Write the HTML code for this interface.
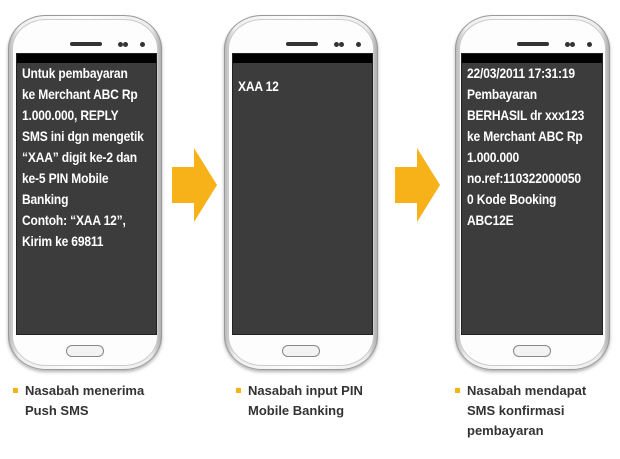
<!DOCTYPE html>
<html><head><meta charset="utf-8"><style>
body{margin:0;width:620px;height:459px;background:#fff;position:relative;overflow:hidden;font-family:"Liberation Sans",sans-serif}
.ph{position:absolute;top:15px;height:355px;border-radius:38px/34px;background:linear-gradient(90deg,#b5b5b5,#f0f0f0 7%,#fff 50%,#ececec 93%,#a8a8a8);box-shadow:0 0 0 1px #999 inset,0 2px 3px rgba(0,0,0,.3)}
.in{position:absolute;left:4px;right:4px;top:4px;bottom:4px;border-radius:34px/30px;border:1px solid #ccc;background:#fdfdfd}
.spk{position:absolute;top:27px;height:4px;width:32px;background:#333;border-radius:2px}
.dot{position:absolute;top:27px;width:5px;height:5px;border-radius:50%;background:#333}
.home{position:absolute;bottom:13px;width:36px;height:10px;border:1px solid #888;border-radius:6px;background:#f3f3f3}
.scr{position:absolute;top:53px;height:280px;background:#3c3c3c;border:1px solid #222;overflow:hidden}
.sb{position:absolute;left:0;right:0;top:0;height:9px;background:#000}
.txt{position:absolute;left:5px;top:9px;color:#fff;font-weight:bold;font-size:14px;letter-spacing:-0.2px;line-height:21px;white-space:nowrap;transform:scaleX(0.86);transform-origin:0 0}
.lab{position:absolute;font-size:13px;line-height:20px;color:#333;font-weight:bold}
.lab:before{content:"";position:absolute;left:-12px;top:7px;width:5px;height:5px;background:#f5b21b}
</style></head><body>
<div class="ph" style="left:8px;width:154px"><div class="in"></div><div class="spk" style="left:62px"></div><div class="dot" style="left:110px"></div><div class="dot" style="left:115px"></div><div class="dot" style="left:132px"></div><div class="home" style="left:58px"></div></div>
<div class="scr" style="left:16px;width:139px"><div class="sb"></div><div class="txt">Untuk pembayaran<br>ke Merchant ABC Rp<br>1.000.000, REPLY<br>SMS ini dgn mengetik<br>“XAA” digit ke-2 dan<br>ke-5 PIN Mobile<br>Banking<br>Contoh: “XAA 12”,<br>Kirim ke 69811</div></div>

<div class="ph" style="left:224px;width:154px"><div class="in"></div><div class="spk" style="left:62px"></div><div class="dot" style="left:110px"></div><div class="dot" style="left:115px"></div><div class="dot" style="left:132px"></div><div class="home" style="left:58px"></div></div>
<div class="scr" style="left:232px;width:139px"><div class="sb"></div><div class="txt" style="top:22px">XAA 12</div></div>

<div class="ph" style="left:455px;width:155px"><div class="in"></div><div class="spk" style="left:62px"></div><div class="dot" style="left:110px"></div><div class="dot" style="left:115px"></div><div class="dot" style="left:132px"></div><div class="home" style="left:58px"></div></div>
<div class="scr" style="left:461px;width:140px"><div class="sb"></div><div class="txt">22/03/2011 17:31:19<br>Pembayaran<br>BERHASIL dr xxx123<br>ke Merchant ABC Rp<br>1.000.000<br>no.ref:110322000050<br>0 Kode Booking<br>ABC12E</div></div>

<svg style="position:absolute;left:0;top:0" width="620" height="459">
<polygon points="172,167 194,167 194,148 217,185 194,222 194,203 172,203" fill="#f7b21a"/>
<polygon points="395,167 417,167 417,148 440,185 417,222 417,203 395,203" fill="#f7b21a"/>
</svg>

<div class="lab" style="left:25px;top:381px">Nasabah menerima<br>Push SMS</div>
<div class="lab" style="left:248px;top:381px">Nasabah input PIN<br>Mobile Banking</div>
<div class="lab" style="left:467px;top:381px">Nasabah mendapat<br>SMS konfirmasi<br>pembayaran</div>
</body></html>
